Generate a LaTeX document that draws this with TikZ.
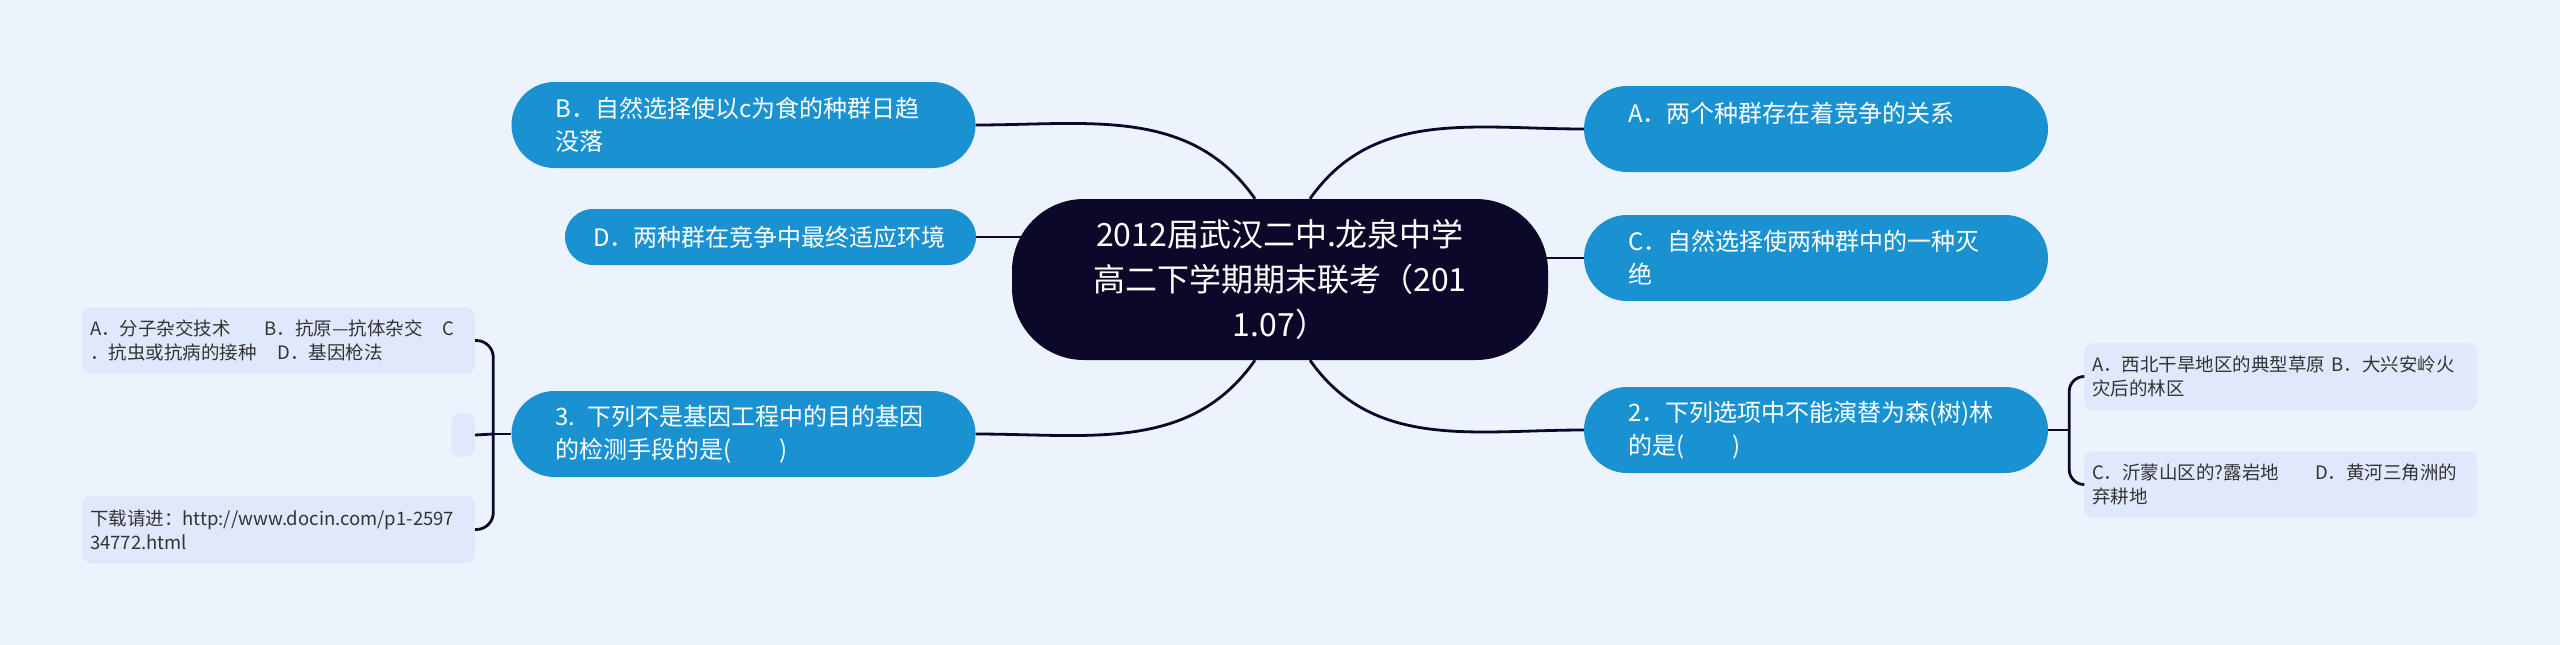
\documentclass[tikz,border=0pt]{standalone}
\usepackage{fontspec}
\setmainfont{Noto Sans CJK SC}
\usepackage{tikz}
\definecolor{bgblue}{HTML}{EDF3FD}
\definecolor{rootnavy}{HTML}{0C082A}
\definecolor{topicblue}{HTML}{1A92D2}
\definecolor{leafblue}{HTML}{E0E9FB}
\definecolor{leaftext}{HTML}{333333}

\begin{document}
\begin{tikzpicture}[x=1pt, y=-1pt,
	root/.style={fill=rootnavy, text=white, rounded corners=72pt, minimum width=536pt, minimum height=161pt, align=center, font=\fontsize{32}{45}\selectfont},
	topic/.style={fill=topicblue, text=white, rounded corners=43pt, align=left, inner xsep=44pt, text width=376pt, minimum height=86pt, font=\fontsize{24}{33}\selectfont},
	leaf/.style={fill=leafblue, text=leaftext, rounded corners=9pt, align=left, inner xsep=8pt, text width=377pt, minimum height=67pt, font=\fontsize{18.5}{24}\selectfont},
	link/.style={draw=rootnavy, line width=2.8pt}]
			
			\fill[bgblue] (0,0) rectangle (2560,645);
			
			\node[root] (root) at (1280,279.5) {2012届武汉二中.龙泉中学\\高二下学期期末联考（201\\1.07）};
			
			\node[topic] (optB) at (743.5,125) {B．自然选择使以c为食的种群日趋\\没落};
			\node[topic, text width=355pt, inner xsep=28pt, minimum height=56pt, rounded corners=28pt] (optD) at (770.5,237) {D．两种群在竞争中最终适应环境};
			\node[topic] (q3) at (743.5,434) {3. 下列不是基因工程中的目的基因\\的检测手段的是(\hspace{48pt})};
			\node[topic] (optA) at (1816,129) {A．两个种群存在着竞争的关系\\\mbox{}};
			\node[topic] (optC) at (1816,258) {C．自然选择使两种群中的一种灭\\绝};
			\node[topic] (q2) at (1816,430) {2．下列选项中不能演替为森(树)林\\的是(\hspace{48pt})};
			
			\node[leaf] (leafQ3a) at (278.5,340.5) {A．分子杂交技术\hspace{34pt}B．抗原—抗体杂交\hspace{20pt}C\\．抗虫或抗病的接种\hspace{21pt}D．基因枪法};
			\node[leaf, text width=0pt, inner xsep=0pt, minimum width=24pt, minimum height=44pt] (leafQ3b) at (463,435) {};
			\node[leaf] (leafQ3c) at (278.5,529.5) {下载请进：http://www.docin.com/p1-2597\\34772.html};
			\node[leaf] (leafQ2a) at (2280.5,376.5) {A．西北干旱地区的典型草原 B．大兴安岭火\\灾后的林区};
			\node[leaf] (leafQ2b) at (2280.5,484.5) {C．沂蒙山区的?露岩地\hspace{36pt}D．黄河三角洲的\\弃耕地};
			
			\draw[link] (optB.east) to[out=0,in=125] ([xshift=-25pt]root.north);
			\draw[link] (optD.east) -- (optD.east -| root.west) -- ++(12pt,0);
			\draw[link] (q3.east) to[out=0,in=-125] ([xshift=-25pt]root.south);
			\draw[link] ([xshift=30pt]root.north) to[out=55,in=180] (optA.west);
			\draw[link] (optC.west) -- (optC.west -| root.east) -- ++(-12pt,0);
			\draw[link] ([xshift=30pt]root.south) to[out=-55,in=180] (q2.west);
			
			\draw[link] (q2.east) -- ++(21pt,0) coordinate (q2fork);
			\draw[link, rounded corners=15pt] (q2fork) |- (leafQ2a.west);
			\draw[link, rounded corners=15pt] (q2fork) |- (leafQ2b.west);
			\draw[link] (q3.west) -- ++(-18pt,0) coordinate (q3fork);
			\draw[link, rounded corners=17pt] (q3fork) |- (leafQ3a.east);
			\draw[link, rounded corners=17pt] (q3fork) |- (leafQ3c.east);
			\draw[link] (q3fork) -- (leafQ3b.east);
			
		\end{tikzpicture}
\end{document}
